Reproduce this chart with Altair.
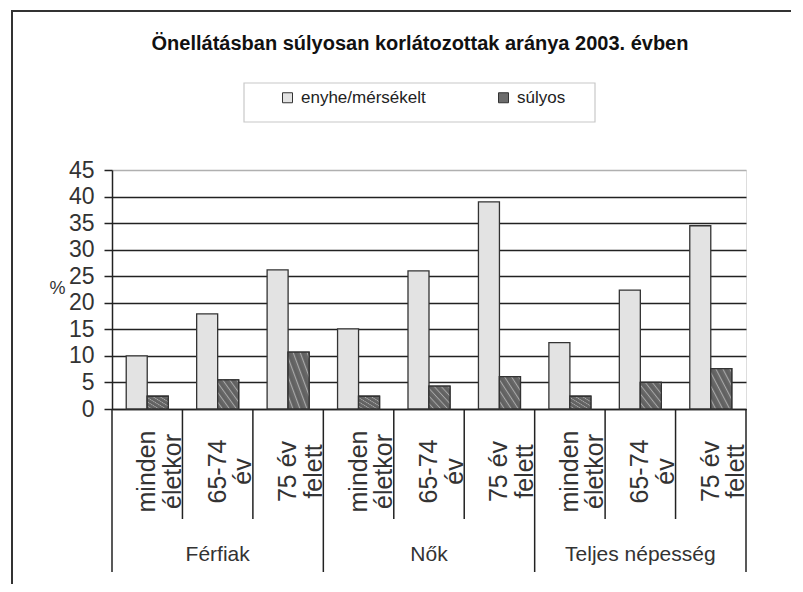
import altair as alt
import pandas as pd

# ---- data ----
title_text = "Önellátásban súlyosan korlátozottak aránya  2003. évben"
groups = ["Férfiak", "Nők", "Teljes népesség"]
ages = ["minden|életkor", "65-74|év", "75 év|felett"]
series = ["enyhe/mérsékelt", "súlyos"]
enyhe = [10.0, 17.9, 26.2, 15.1, 26.0, 39.0, 12.5, 22.4, 34.5]
sulyos = [2.4, 5.5, 10.7, 2.4, 4.3, 6.1, 2.4, 5.0, 7.6]
y_ticks = [0, 5, 10, 15, 20, 25, 30, 35, 40, 45]

keys = [g + "#" + a for g in groups for a in ages]

rows = []
for i, k in enumerate(keys):
    rows.append({"key": k, "series": series[0], "value": enyhe[i]})
    rows.append({"key": k, "series": series[1], "value": sulyos[i]})
df = pd.DataFrame(rows)
df_dark = df[df["series"] == series[1]]

rules_df = pd.DataFrame({"key": keys, "first": [i % 3 == 0 for i in range(len(keys))]})
group_df = pd.DataFrame({"key": [keys[i * 3 + 1] for i in range(3)], "group": groups})
title_df = pd.DataFrame({"t": [title_text]})

# ---- layout ----
W, H = 634, 239
SANS = "Liberation Sans"
LIGHT = "#e3e3e3"
DARK = "#6c6c6c"
LINE = "#222222"

xscale = alt.Scale(domain=keys, paddingInner=0, paddingOuter=0)
offscale = alt.Scale(domain=series, paddingInner=0, paddingOuter=0.677)
yscale = alt.Scale(domain=[0, 45], nice=False, zero=True)

x_axis = alt.Axis(
    title=None, orient="bottom", ticks=False, grid=False,
    domainColor=LINE, domainWidth=1.5,
    labelAngle=270, labelAlign="center", labelBaseline="middle",
    labelFont=SANS, labelFontSize=25, labelLineHeight=25.5,
    labelColor="#333333", labelPadding=62, labelLimit=300, labelOverlap=False,
    labelExpr="split(split(datum.label, '#')[1], '|')",
)
y_axis = alt.Axis(
    values=y_ticks, tickCount=10, title="%", titleAngle=0, titleX=-55, titleY=118,
    titleAlign="center", titleBaseline="middle", titleFont=SANS,
    titleFontSize=18, titleFontWeight="normal", titleColor="#333333",
    tickSize=8, tickColor=LINE, tickWidth=1.5,
    domainColor=LINE, domainWidth=1.5,
    labelFont=SANS, labelFontSize=23, labelColor="#333333", labelPadding=10,
    labelOverlap=False, labelFlush=False,
    grid=True, gridWidth=1.5,
    gridColor=alt.ConditionalAxisColor(
        condition={"test": "datum.value == 45", "value": "#b0b0b0"}, value=LINE
    ),
)

bars = alt.Chart(df).mark_bar(stroke="#333333", strokeWidth=1.3).encode(
    x=alt.X("key:N", scale=xscale, axis=x_axis, sort=keys),
    xOffset=alt.XOffset("series:N", scale=offscale, sort=series),
    y=alt.Y("value:Q", scale=yscale, axis=y_axis),
    color=alt.Color(
        "series:N",
        scale=alt.Scale(domain=series, range=[LIGHT, DARK]),
        legend=alt.Legend(
            orient="none", legendX=167, legendY=-81, direction="horizontal",
            title=None, symbolType="square", symbolSize=100,
            symbolStrokeColor="#333333", symbolStrokeWidth=1, symbolOpacity=1,
            labelFont=SANS, labelFontSize=17, labelColor="#222222",
            columnPadding=69, labelOffset=5, padding=0,
        ),
    ),
)

# diagonal hatch for the dark series
stops = []
n = 6
for i in range(n):
    stops += [
        {"offset": i / n, "color": "#5f5f5f"},
        {"offset": (i + 0.55) / n, "color": "#6a6a6a"},
        {"offset": (i + 0.7) / n, "color": "#a9a9a9"},
        {"offset": (i + 0.85) / n, "color": "#6a6a6a"},
        {"offset": (i + 1) / n, "color": "#5f5f5f"},
    ]
hatch = {"gradient": "linear", "x1": 0, "y1": 1, "x2": 1, "y2": 0, "stops": stops}

dark_bars = alt.Chart(df_dark).mark_bar(fill=hatch, stroke="#333333", strokeWidth=1.3).encode(
    x=alt.X("key:N", scale=xscale, axis=x_axis, sort=keys),
    xOffset=alt.XOffset("series:N", scale=offscale, sort=series),
    y=alt.Y("value:Q", scale=yscale, axis=y_axis),
)

inner_rules = alt.Chart(rules_df).transform_filter("!datum.first").mark_rule(
    color=LINE, strokeWidth=1.5
).encode(
    x=alt.X("key:N", scale=xscale, axis=x_axis, sort=keys, bandPosition=0),
    y=alt.value(H), y2=alt.value(H + 110),
)
group_rules = alt.Chart(rules_df).transform_filter("datum.first").mark_rule(
    color=LINE, strokeWidth=1.5
).encode(
    x=alt.X("key:N", scale=xscale, axis=x_axis, sort=keys, bandPosition=0),
    y=alt.value(H), y2=alt.value(H + 163),
)
end_rule = alt.Chart(title_df).mark_rule(color=LINE, strokeWidth=1.5).encode(
    x=alt.value(W), y=alt.value(H), y2=alt.value(H + 163)
)

group_labels = alt.Chart(group_df).mark_text(
    font=SANS, fontSize=21, color="#333333", align="center", baseline="alphabetic"
).encode(
    x=alt.X("key:N", scale=xscale, axis=x_axis, sort=keys),
    y=alt.value(H + 152),
    text="group:N",
)

title_mark = alt.Chart(title_df).mark_text(
    font=SANS, fontWeight="bold", fontSize=20, color="#111111",
    align="center", baseline="alphabetic",
).encode(x=alt.value(308), y=alt.value(-120), text="t:N")

legend_box = alt.Chart(title_df).mark_rect(fill="white", stroke="#c8c8c8", strokeWidth=1.2).encode(
    x=alt.value(132), x2=alt.value(483), y=alt.value(-87), y2=alt.value(-48)
)

frame = alt.Chart(title_df).mark_rect(
    fill="transparent", stroke="#333333", strokeWidth=2
).encode(
    x=alt.value(-100), x2=alt.value(W + 80), y=alt.value(-159), y2=alt.value(H + 200)
)

chart = alt.layer(
    frame, legend_box, title_mark,
    bars, dark_bars, inner_rules, group_rules, end_rule, group_labels,
).properties(
    width=W, height=H,
    autosize=alt.AutoSizeParams(type="none"),
    padding={"left": 104, "top": 162, "right": 45, "bottom": 175},
).configure_view(
    stroke="#b0b0b0", strokeWidth=1.5
).configure(
    background="white"
)

chart.save("out.html", embed_options={"renderer": "svg", "actions": False})
